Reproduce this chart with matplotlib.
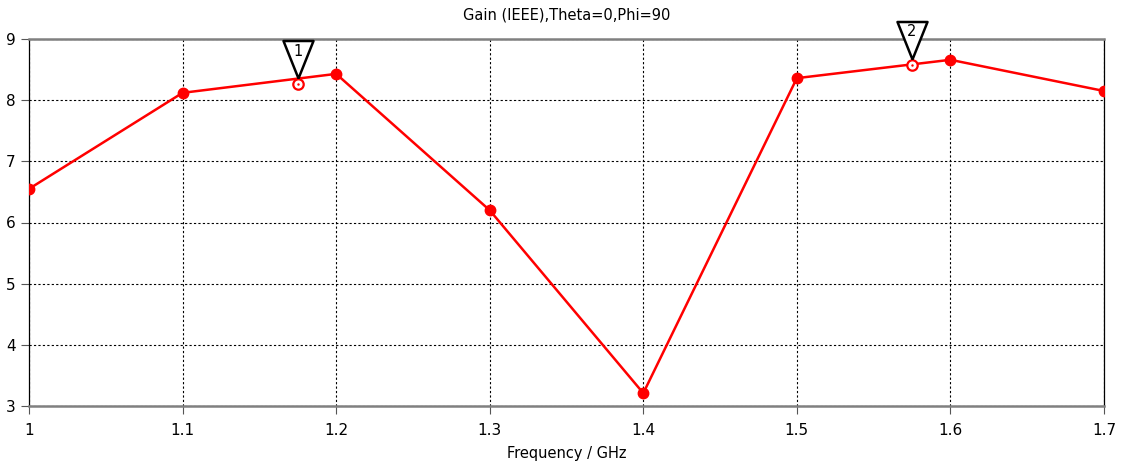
import numpy as np
import matplotlib.pyplot as plt
from matplotlib import transforms

freq = [1.0, 1.1, 1.2, 1.3, 1.4, 1.5, 1.6, 1.7]
gain = [6.55, 8.12, 8.43, 6.20, 3.21, 8.36, 8.66, 8.15]

# marker readouts on the curve
mark_freq = [1.175, 1.575]
mark_gain = [8.26, 8.58]
mark_names = ['1', '2']

fig = plt.figure(figsize=(11.25, 4.63), dpi=100)
ax = fig.add_axes([29/1125, 57/463, 1075/1125, 367/463])

ax.plot(freq, gain, '-', color='red', linewidth=1.8, marker='o', markersize=7.5, zorder=3)
ax.plot(mark_freq, mark_gain, 'o', color='red', markerfacecolor='white', markeredgewidth=1.6,
        markersize=7.5, zorder=4)
ax.plot(mark_freq, mark_gain, '.', color='red', markersize=1.5, zorder=5)

# flag triangles above the markers
tri = [(0, 0), (-0.4, 1), (0.4, 1), (0, 0)]
shift = transforms.offset_copy(ax.transData, fig=fig, y=6, units='dots')
ax.plot(mark_freq, mark_gain, linestyle='none', marker=tri, markersize=54, markerfacecolor='white',
        markeredgecolor='black', markeredgewidth=1.8, transform=shift, clip_on=False, zorder=6)
for f, g, name in zip(mark_freq, mark_gain, mark_names):
    ax.annotate(name, (f, g), xytext=(0, 33), textcoords='offset pixels', ha='center', va='center',
                fontsize=10.5, zorder=7, annotation_clip=False)

ax.set_xlim(1.0, 1.7)
ax.set_ylim(3, 9)
ax.set_xticks(np.arange(1.0, 1.71, 0.1))
ax.set_xticklabels(['1', '1.1', '1.2', '1.3', '1.4', '1.5', '1.6', '1.7'])
ax.set_yticks(range(3, 10))
ax.grid(True, color='black', linestyle=(0, (2, 2)), linewidth=0.8)
ax.tick_params(labelsize=11, length=6, width=0.8, color='#555555')
ax.tick_params(axis='x', pad=6)

for s in ['top', 'bottom']:
    ax.spines[s].set_color('#808080')
    ax.spines[s].set_linewidth(1.8)
for s in ['left', 'right']:
    ax.spines[s].set_color('black')
    ax.spines[s].set_linewidth(0.9)

ax.set_title('Gain (IEEE),Theta=0,Phi=90', fontsize=10.5, pad=14)
ax.set_xlabel('Frequency / GHz', fontsize=10.5, labelpad=6)

plt.savefig('out.png', dpi=100)
